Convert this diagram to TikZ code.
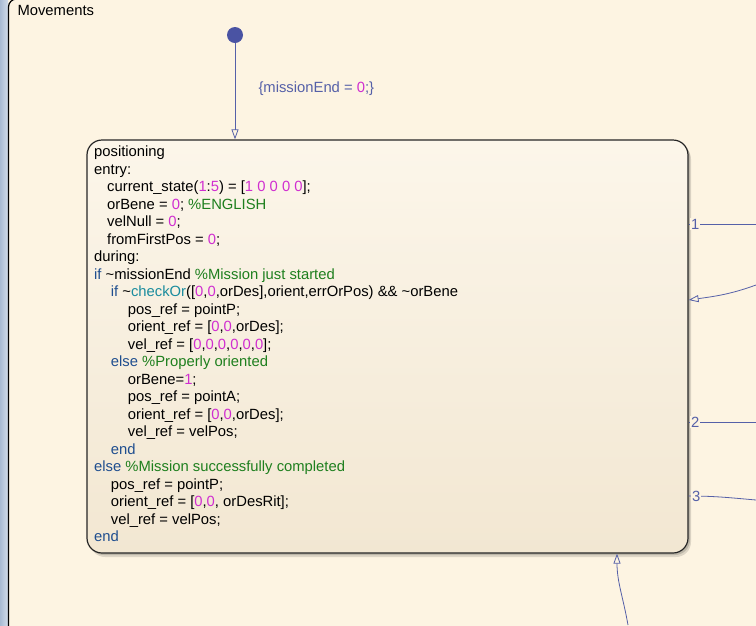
\documentclass[tikz,border=0pt]{standalone}
\usepackage{fontspec}
\setmainfont{Liberation Sans}
\usetikzlibrary{arrows.meta}
\definecolor{bgcream}{HTML}{FDF4E2}
\definecolor{boxtop}{HTML}{FCF6EA}
\definecolor{boxbot}{HTML}{F2E7D2}
\definecolor{stripdark}{HTML}{A9BBD3}
\definecolor{striplight}{HTML}{D3DDEA}
\definecolor{transblue}{HTML}{5560A8}
\definecolor{dotblue}{HTML}{4A53A3}
\definecolor{kwblue}{HTML}{1F4E8F}
\definecolor{cmtgreen}{HTML}{1E7F1E}
\definecolor{nmbmag}{HTML}{D02ED0}
\definecolor{fnteal}{HTML}{1A8C9E}
\def\kwd#1{\textcolor{kwblue}{#1}}
\def\cmt#1{\textcolor{cmtgreen}{#1}}
\def\nmb#1{\textcolor{nmbmag}{#1}}
\def\fnc#1{\textcolor{fnteal}{#1}}
\def\ind#1{\hspace*{#1pt}}

\begin{document}
\begin{tikzpicture}[x=1pt,y=-1pt,
	code/.style={font=\fontsize{14.8}{17.5}\selectfont},
	trans/.style={draw=transblue, line width=0.8pt},
	opentip/.style={-{Triangle[open,length=10pt,width=7pt]}},
	tlabel/.style={code, text=transblue, fill=bgcream, inner sep=1pt}]
	%%%%% START %%%%%
	
	\clip (0,0) rectangle (756,625);
	\fill[bgcream] (0,0) rectangle (756,625);
	\shade[left color=stripdark, right color=striplight] (0,0) rectangle (8,625);
	\draw[line width=1.2pt, rounded corners=8pt, fill=bgcream] (8.5,-1) rectangle (800,640);
	\node[code, anchor=base west] (movements) at (14,15) {Movements};
	
	% state box with shadow
	\fill[black, opacity=0.12, rounded corners=15pt] (90,144) rectangle (691,557);
	\fill[black, opacity=0.15, rounded corners=15pt] (89,142) rectangle (690,555);
	\node[draw=black!85, line width=1.2pt, rounded corners=15pt, top color=boxtop, bottom color=boxbot,
		minimum width=601pt, minimum height=413pt] (positioning) at (387.5,346.5) {};
	
	\node[code, anchor=north west, inner sep=0, align=left] (posText) at (94,145.8) {%
		positioning\\
		entry:\\
		\ind{13}current\_state(\nmb{1}:\nmb{5}) = [\nmb{1 0 0 0 0}];\\
		\ind{13}orBene = \nmb{0}; \cmt{\%ENGLISH}\\
		\ind{13}velNull = \nmb{0};\\
		\ind{13}fromFirstPos = \nmb{0};\\
		during:\\
		\kwd{if} \textasciitilde missionEnd \cmt{\%Mission just started}\\
		\ind{16.7}\kwd{if} \textasciitilde\fnc{checkOr}([\nmb{0},\nmb{0},orDes],orient,errOrPos) \&\& \textasciitilde orBene\\
		\ind{33.7}pos\_ref = pointP;\\
		\ind{33.7}orient\_ref = [\nmb{0},\nmb{0},orDes];\\
		\ind{33.7}vel\_ref = [\nmb{0},\nmb{0},\nmb{0},\nmb{0},\nmb{0},\nmb{0}];\\
		\ind{16.7}\kwd{else} \cmt{\%Properly oriented}\\
		\ind{33.7}orBene=\nmb{1};\\
		\ind{33.7}pos\_ref = pointA;\\
		\ind{33.7}orient\_ref = [\nmb{0},\nmb{0},orDes];\\
		\ind{33.7}vel\_ref = velPos;\\
		\ind{16.7}\kwd{end}\\
		\kwd{else} \cmt{\%Mission successfully completed}\\
		\ind{16.7}pos\_ref = pointP;\\
		\ind{16.7}orient\_ref = [\nmb{0},\nmb{0}, orDesRit];\\
		\ind{16.7}vel\_ref = velPos;\\
		\kwd{end}};
	
	% default transition
	\node[circle, fill=dotblue, inner sep=0, minimum size=16pt] (init) at (235,35) {};
	\draw[trans, opentip] (init) -- (init |- positioning.north);
	\node[code, text=transblue, anchor=west] (initLabel) at (255,89) {\{missionEnd = \nmb{0};\}};
	
	% transitions leaving on the right
	\coordinate (out1) at (756,224);
	\coordinate (out2) at (756,422);
	\coordinate (out3) at (756,500);
	\coordinate (in1) at (756,285);
	\coordinate (in2) at (628,625);
	\draw[trans] (positioning.east |- out1) -- (out1) node[tlabel, pos=0.1] (lab1) {1};
	\draw[trans] (positioning.east |- out2) -- (out2) node[tlabel, pos=0.1] (lab2) {2};
	\draw[trans] ([yshift=-149.5pt]positioning.east) to[out=0, in=175]
		node[tlabel, pos=0.1] (lab3) {3} (out3);
	\draw[trans, opentip] (in1) to[out=200, in=8] ([yshift=46.5pt]positioning.east);
	\draw[trans, opentip] (in2) to[out=100, in=-90] ([xshift=229.5pt]positioning.south);
	
	%%%%% END %%%%%
\end{tikzpicture}
\end{document}
